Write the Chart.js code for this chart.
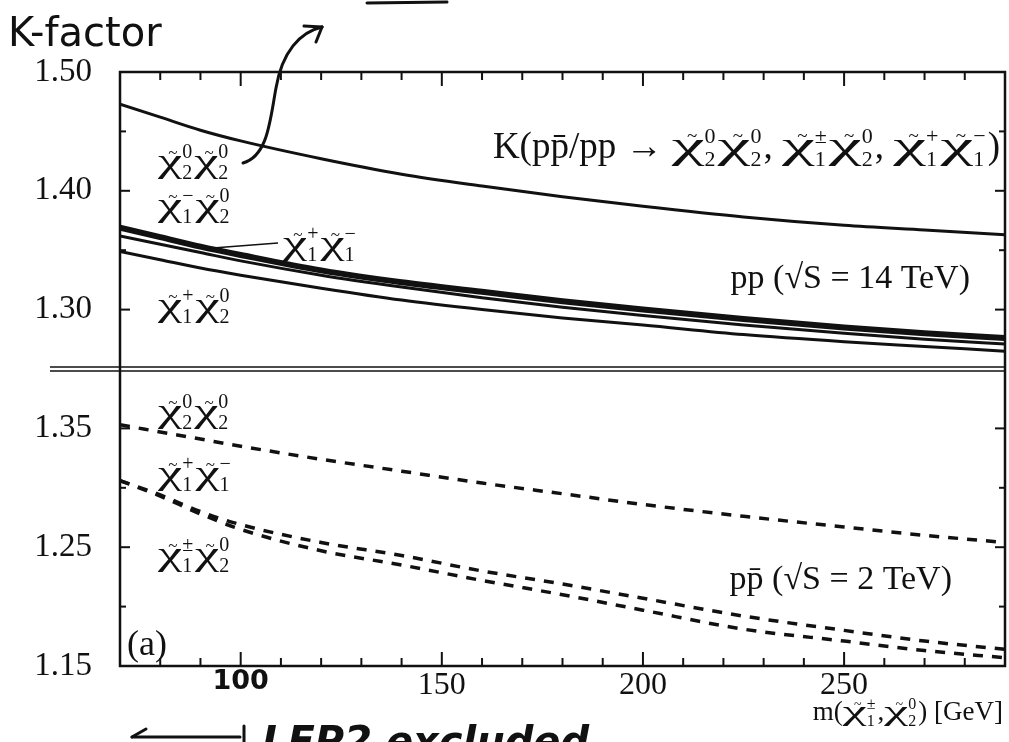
<!DOCTYPE html>
<html>
<head>
<meta charset="utf-8">
<title>K-factor</title>
<script src="https://cdn.jsdelivr.net/npm/chart.js@4.4.1/dist/chart.umd.min.js"></script>
<style>
  html, body { margin: 0; padding: 0; background: #fff; }
  #kChart { display: block; }
</style>
</head>
<body>
<canvas id="kChart" width="1009" height="742"></canvas>
<script>
// gaugino mass grid, GeV
const mass = [70, 80, 90, 100, 120, 140, 160, 180, 200, 225, 250, 270, 290];

// pp, sqrt(S) = 14 TeV
const lhcN2N2  = [1.473, 1.462, 1.451, 1.442, 1.427, 1.414, 1.404, 1.395, 1.387, 1.378, 1.371, 1.367, 1.363];
const lhcC1mN2 = [1.369, 1.361, 1.353, 1.346, 1.333, 1.323, 1.315, 1.307, 1.300, 1.292, 1.285, 1.280, 1.276];
const lhcC1C1  = [1.362, 1.355, 1.348, 1.341, 1.329, 1.319, 1.310, 1.302, 1.295, 1.287, 1.280, 1.275, 1.271];
const lhcC1pN2 = [1.349, 1.342, 1.335, 1.329, 1.318, 1.308, 1.300, 1.293, 1.287, 1.279, 1.273, 1.269, 1.265];

// ppbar, sqrt(S) = 2 TeV
const tevN2N2 = [1.353, 1.347, 1.341, 1.335, 1.324, 1.314, 1.304, 1.295, 1.286, 1.276, 1.267, 1.260, 1.254];
const tevC1C1 = [1.306, 1.294, 1.280, 1.269, 1.254, 1.243, 1.230, 1.219, 1.207, 1.192, 1.180, 1.171, 1.164];
const tevC1N2 = [1.306, 1.293, 1.278, 1.265, 1.247, 1.235, 1.222, 1.210, 1.197, 1.181, 1.171, 1.163, 1.157];

const xLabels = [100, 150, 200, 250];
const topLabels = [1.50, 1.40, 1.30];
const botLabels = [1.35, 1.25, 1.15];

const SERIF = '"Liberation Serif", "DejaVu Serif", serif';
const HAND = '"DejaVu Sans", "Liberation Sans", sans-serif';
const INK = '#111';

const pts = ys => mass.map((m, i) => ({ x: m, y: ys[i] }));
const hasLabel = (list, v) => list.some(l => Math.abs(l - v) < 1e-6);

function solid(data, width) {
  return { data: pts(data), yAxisID: 'yTop', borderColor: INK, borderWidth: width,
           pointRadius: 0, cubicInterpolationMode: 'monotone' };
}
function dashed(data) {
  return { data: pts(data), yAxisID: 'yBot', borderColor: INK, borderWidth: 3.5,
           borderDash: [10, 9], pointRadius: 0, cubicInterpolationMode: 'monotone' };
}

// text with gaugino symbols; parts are plain strings or [sub, sup] for a chi-tilde
function partWidth(ctx, p, size, stretch) {
  ctx.font = size + 'px ' + SERIF;
  if (typeof p === 'string') return ctx.measureText(p).width;
  const w = ctx.measureText('χ').width * stretch;
  ctx.font = Math.round(size * 0.6) + 'px ' + SERIF;
  return w + Math.max(ctx.measureText(p[0]).width, ctx.measureText(p[1]).width) + 2;
}

function drawRich(ctx, parts, x, y, size, align, stretch) {
  stretch = stretch || 1.6;
  const w = parts.reduce((s, p) => s + partWidth(ctx, p, size, stretch), 0);
  if (align === 'right') x -= w;
  ctx.textBaseline = 'alphabetic';
  ctx.fillStyle = INK;
  parts.forEach(p => {
    ctx.textAlign = 'left';
    ctx.font = size + 'px ' + SERIF;
    if (typeof p === 'string') {
      ctx.fillText(p, x, y);
      x += ctx.measureText(p).width;
      return;
    }
    const cw = ctx.measureText('χ').width * stretch;
    ctx.save();
    ctx.translate(x, y);
    ctx.scale(stretch, 1);
    ctx.fillText('χ', 0, 0);
    ctx.restore();
    ctx.font = Math.round(size * 0.5) + 'px ' + SERIF;
    ctx.textAlign = 'center';
    ctx.fillText('~', x + cw * 0.62, y - size * 0.42);
    ctx.textAlign = 'left';
    x += cw;
    const small = Math.round(size * 0.6);
    ctx.font = small + 'px ' + SERIF;
    ctx.fillText(p[1], x, y - size * 0.4);
    ctx.fillText(p[0], x, y + size * 0.22);
    x += Math.max(ctx.measureText(p[0]).width, ctx.measureText(p[1]).width) + 2;
  });
}

function line(ctx, x1, y1, x2, y2) {
  ctx.beginPath();
  ctx.moveTo(x1, y1);
  ctx.lineTo(x2, y2);
  ctx.stroke();
}

// box, inward ticks, panel divider and all the annotations
const framePlugin = {
  id: 'framePlugin',
  afterDatasetsDraw(chart) {
    const { ctx, chartArea: a, scales } = chart;
    ctx.save();
    ctx.strokeStyle = INK;
    ctx.lineCap = 'butt';

    ctx.lineWidth = 2;
    scales.x.ticks.forEach(t => {
      if (t.value <= scales.x.min || t.value >= scales.x.max) return;
      const px = scales.x.getPixelForValue(t.value);
      const len = t.value % 50 === 0 ? 14 : 8;
      line(ctx, px, a.top, px, a.top + len);
      line(ctx, px, a.bottom, px, a.bottom - len);
    });
    [['yTop', topLabels], ['yBot', botLabels]].forEach(([id, labels]) => {
      const s = scales[id];
      s.ticks.forEach(t => {
        if (t.value <= s.min + 1e-6 || t.value >= s.max - 1e-6) return;
        const py = s.getPixelForValue(t.value);
        const len = hasLabel(labels, t.value) ? 10 : 6;
        line(ctx, a.left, py, a.left + len, py);
        line(ctx, a.right, py, a.right - len, py);
      });
    });

    ctx.lineWidth = 2.5;
    ctx.strokeRect(a.left, a.top, a.right - a.left, a.bottom - a.top);

    const mid = scales.yTop.bottom;
    ctx.lineWidth = 1.5;
    line(ctx, 50, mid - 2, a.right, mid - 2);
    line(ctx, 50, mid + 2, a.right, mid + 2);

    // curve labels
    const n2n2 = [['2', '0'], ['2', '0']];
    drawRich(ctx, n2n2, 158, 172, 34);
    drawRich(ctx, [['1', '−'], ['2', '0']], 158, 216, 34);
    drawRich(ctx, [['1', '+'], ['1', '−']], 283, 254, 34);
    drawRich(ctx, [['1', '+'], ['2', '0']], 158, 316, 34);
    drawRich(ctx, n2n2, 158, 422, 34);
    drawRich(ctx, [['1', '+'], ['1', '−']], 158, 484, 34);
    drawRich(ctx, [['1', '±'], ['2', '0']], 158, 565, 34);

    ctx.lineWidth = 1.5;
    line(ctx, 213, 248, 278, 243);

    drawRich(ctx, ['K(pp\u0304/pp → ', ['2', '0'], ['2', '0'], ', ',
                   ['1', '±'], ['2', '0'], ', ', ['1', '+'], ['1', '−'], ')'],
             1000, 158, 37, 'right', 2.0);
    drawRich(ctx, ['pp (√S = 14 TeV)'], 970, 288, 34, 'right');
    drawRich(ctx, ['pp\u0304 (√S = 2 TeV)'], 952, 589, 34, 'right');
    drawRich(ctx, ['(a)'], 127, 655, 36);
    drawRich(ctx, ['m(', ['1', '±'], ',', ['2', '0'], ') [GeV]'], 1003, 720, 27, 'right', 2.0);

    // pen notes
    ctx.fillStyle = INK;
    ctx.font = '40px ' + HAND;
    ctx.textAlign = 'left';
    ctx.fillText('K-factor', 8, 46);
    ctx.font = 'italic bold 40px ' + HAND;
    ctx.fillText('LEP2 excluded', 262, 755);

    ctx.lineWidth = 3;
    ctx.lineCap = 'round';
    ctx.beginPath();
    ctx.moveTo(243, 163);
    ctx.bezierCurveTo(268, 156, 270, 120, 276, 88);
    ctx.bezierCurveTo(282, 52, 300, 32, 322, 27);
    ctx.stroke();
    line(ctx, 322, 27, 304, 26);
    line(ctx, 322, 27, 316, 42);
    line(ctx, 367, 3, 447, 2);

    line(ctx, 132, 737, 240, 737);
    line(ctx, 132, 737, 146, 729);
    line(ctx, 244, 726, 244, 742);
    ctx.restore();
  }
};

const yAxis = (min, max, labels) => ({
  type: 'linear',
  position: 'left',
  stack: 'k',
  stackWeight: 1,
  min: min,
  max: max,
  grid: { display: false, drawTicks: false },
  border: { display: false },
  afterFit: s => { s.width = 120; },
  ticks: {
    stepSize: 0.05,
    autoSkip: false,
    padding: 28,
    color: INK,
    font: { family: SERIF, size: 33 },
    callback: v => hasLabel(labels, v) ? v.toFixed(2) : ''
  }
});

new Chart(document.getElementById('kChart'), {
  type: 'line',
  data: {
    datasets: [
      solid(lhcN2N2, 3),
      solid(lhcC1mN2, 6),
      solid(lhcC1C1, 3),
      solid(lhcC1pN2, 3),
      dashed(tevN2N2),
      dashed(tevC1C1),
      dashed(tevC1N2)
    ]
  },
  options: {
    responsive: false,
    animation: false,
    devicePixelRatio: 1,
    layout: { padding: { top: 72, right: 4, left: 0, bottom: 0 } },
    plugins: { legend: { display: false }, tooltip: { enabled: false } },
    scales: {
      x: {
        type: 'linear',
        min: 70,
        max: 290,
        grid: { display: false, drawTicks: false },
        border: { display: false },
        afterFit: s => { s.height = 76; s.paddingLeft = 0; s.paddingRight = 0; },
        ticks: {
          stepSize: 10,
          autoSkip: false,
          maxRotation: 0,
          padding: 0,
          color: INK,
          font: c => c.tick && c.tick.value === 100
            ? { family: HAND, size: 27, weight: 'bold' }
            : { family: SERIF, size: 32 },
          callback: v => xLabels.includes(v) ? String(v) : ''
        }
      },
      // the stack is filled from the last-listed axis down
      yBot: yAxis(1.15, 1.40, botLabels),
      yTop: yAxis(1.25, 1.50, topLabels)
    }
  },
  plugins: [framePlugin]
});
</script>
</body>
</html>
